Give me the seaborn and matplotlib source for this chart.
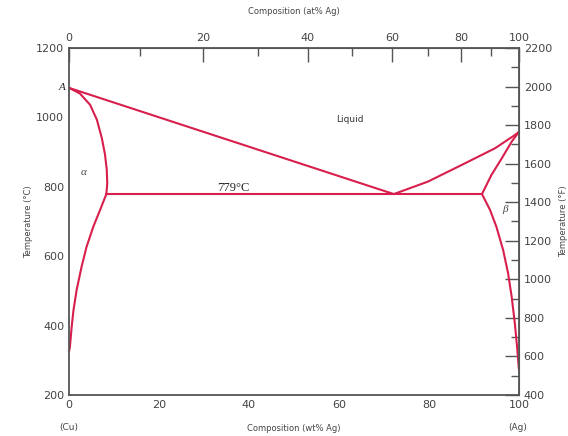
import numpy as np
import pandas as pd
import seaborn as sns
import matplotlib.pyplot as plt
from matplotlib.ticker import MultipleLocator, FixedLocator

# Cu-Ag phase diagram
M_CU, M_AG = 63.55, 107.87

liquidus_left_wt = [0, 72.2]
liquidus_left_t = [1085, 779]
liquidus_right_wt = [72.2, 79.8, 87.3, 94.7, 99.1, 100]
liquidus_right_t = [779, 815, 863, 911, 949, 958]
eutectic_wt = [8.3, 91.8]
eutectic_t = [779, 779]
alpha_solidus_wt = [0, 2.4, 4.7, 6.2, 7.3, 8.0, 8.4, 8.5, 8.3]
alpha_solidus_t = [1085, 1069, 1036, 993, 940, 893, 848, 810, 779]
alpha_solvus_wt = [8.3, 6.9, 5.4, 3.9, 2.8, 1.7, 1.0, 0.6, 0.2, 0]
alpha_solvus_t = [779, 733, 685, 627, 570, 503, 445, 397, 339, 325]
beta_solidus_wt = [91.8, 93.9, 96.2, 98.4, 100]
beta_solidus_t = [779, 834, 882, 930, 958]
beta_solvus_wt = [91.8, 93.6, 95.0, 96.5, 97.6, 98.4, 99.1, 99.6, 100]
beta_solvus_t = [779, 733, 685, 618, 551, 483, 407, 339, 275]

curves = [
    (liquidus_left_wt, liquidus_left_t),
    (liquidus_right_wt, liquidus_right_t),
    (eutectic_wt, eutectic_t),
    (alpha_solidus_wt, alpha_solidus_t),
    (alpha_solvus_wt, alpha_solvus_t),
    (beta_solidus_wt, beta_solidus_t),
    (beta_solvus_wt, beta_solvus_t),
]

line_color = "#d81e4c"
axis_color = "#555555"

sns.set_style("white")
plt.rcParams['font.family'] = ['DejaVu Sans']

fig = plt.figure(figsize=(5.68, 4.36), dpi=100)
ax = fig.add_axes([0.1215, 0.094, 0.792, 0.796])

for wt, t in curves:
    df = pd.DataFrame({"wt": wt, "T": t})
    sns.lineplot(data=df, x="wt", y="T", sort=False, estimator=None,
                 color=line_color, linewidth=1.5, ax=ax)

ax.set_xlim(0, 100)
ax.set_ylim(200, 1200)
ax.set_xlabel("Composition (wt% Ag)", fontsize=6, color="#444444", labelpad=10)
ax.set_ylabel("Temperature (°C)", fontsize=6, color="#444444", labelpad=2)

for s in ax.spines.values():
    s.set_color(axis_color)
    s.set_linewidth(1.3)

ax.xaxis.set_major_locator(MultipleLocator(20))
ax.xaxis.set_minor_locator(MultipleLocator(10))
ax.yaxis.set_major_locator(MultipleLocator(200))
ax.yaxis.set_minor_locator(MultipleLocator(100))
ax.tick_params(which="both", direction="in", color=axis_color, width=1.0,
               labelsize=8, labelcolor="#444444")
ax.tick_params(which="major", length=10)
ax.tick_params(which="minor", length=6)


def wt_to_at(w):
    w = np.asarray(w, dtype=float)
    with np.errstate(divide="ignore", invalid="ignore"):
        return 100 * (w / M_AG) / (w / M_AG + (100 - w) / M_CU)


def at_to_wt(a):
    a = np.asarray(a, dtype=float)
    with np.errstate(divide="ignore", invalid="ignore"):
        return 100 * a * M_AG / (a * M_AG + (100 - a) * M_CU)


top = ax.secondary_xaxis("top", functions=(wt_to_at, at_to_wt))
top.xaxis.set_major_locator(FixedLocator([0, 20, 40, 60, 80, 100]))
top.xaxis.set_minor_locator(FixedLocator([10, 30, 50, 70, 90]))
top.tick_params(which="both", direction="in", color=axis_color, width=1.0,
                labelsize=8, labelcolor="#444444")
top.tick_params(which="major", length=10)
top.tick_params(which="minor", length=6)
top.set_xlabel("Composition (at% Ag)", fontsize=6, color="#444444", labelpad=14)
top.spines["top"].set_color(axis_color)

# °F scale as printed: 400 at the bottom, 2200 at the top
right = ax.secondary_yaxis("right", functions=(lambda c: c * 1.8 + 40,
                                               lambda f: (f - 40) / 1.8))
right.yaxis.set_major_locator(MultipleLocator(200))
right.yaxis.set_minor_locator(MultipleLocator(100))
right.tick_params(which="both", direction="in", color=axis_color, width=1.0,
                  labelsize=8, labelcolor="#444444")
right.tick_params(which="major", length=10)
right.tick_params(which="minor", length=6)
right.set_ylabel("Temperature (°F)", fontsize=6, color="#444444", labelpad=5)
right.spines["right"].set_color(axis_color)

# phase labels
ax.text(-0.8, 1085, "A", fontsize=8, style="italic", family="Liberation Serif",
        ha="right", va="center")
ax.text(3.3, 840, "α", fontsize=8, style="italic", family="Liberation Serif",
        ha="center", va="center", color="#444444")
ax.text(97.0, 734, "β", fontsize=8, style="italic", family="Liberation Serif",
        ha="center", va="center", color="#444444")
ax.text(62.5, 995, "Liquid", fontsize=6.5, ha="center", va="center", color="#333333")
ax.text(36.5, 797, "779°C", fontsize=9, family="Liberation Serif",
        ha="center", va="center")
ax.text(0.0, -0.094, "(Cu)", transform=ax.transAxes, fontsize=6.5,
        ha="center", va="center", color="#444444")
ax.text(0.998, -0.094, "(Ag)", transform=ax.transAxes, fontsize=6.5,
        ha="center", va="center", color="#444444")

fig.savefig("out.png", dpi=100)
